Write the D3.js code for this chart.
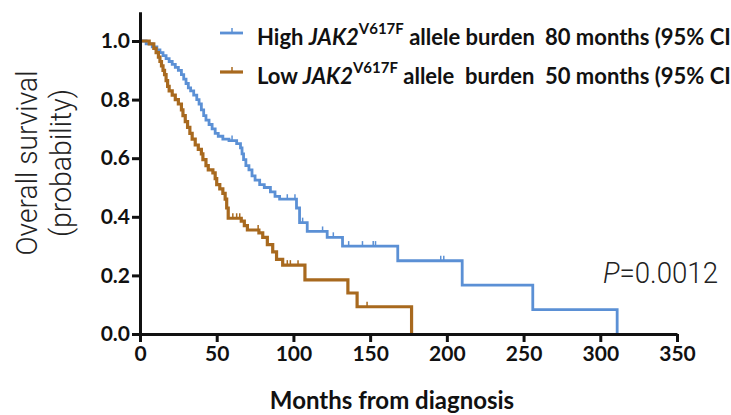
<!DOCTYPE html>
<html lang="en">
<head>
<meta charset="UTF-8">
<title>Overall survival by JAK2 V617F allele burden</title>
<script src="https://d3js.org/d3.v7.min.js"></script>
<style>
  body { margin: 0; background: #fff; }
  svg { display: block; }
</style>
</head>
<body>
<div id="chart"></div>
<script>
// Kaplan-Meier steps: time (months) and survival after each drop
var highTimes = [0, 4, 8, 11, 13, 15, 17, 19, 21, 23, 25, 27, 28.5, 30, 31.5, 33, 35, 37, 38.5, 40, 41.5, 43, 45, 47, 49, 51, 54, 58, 63, 65.5, 66.5, 67.5, 69, 71, 73, 75, 78, 81, 85, 88, 91, 102, 104, 109, 122, 132, 168, 210, 256, 311];
var highSurv  = [1, 0.99, 0.98, 0.97, 0.96, 0.95, 0.94, 0.93, 0.92, 0.91, 0.90, 0.885, 0.87, 0.855, 0.84, 0.83, 0.815, 0.80, 0.785, 0.765, 0.745, 0.73, 0.715, 0.70, 0.685, 0.675, 0.665, 0.66, 0.65, 0.635, 0.615, 0.595, 0.575, 0.56, 0.54, 0.525, 0.51, 0.50, 0.485, 0.47, 0.46, 0.43, 0.38, 0.35, 0.33, 0.30, 0.25, 0.167, 0.083, 0];
var highCensor = [60, 96, 101, 106, 119, 126, 136, 145, 152, 153.5, 196, 198];

var lowTimes = [0, 6, 9, 10.5, 12, 13, 14, 15, 16, 17, 18, 19, 21, 23, 25, 27, 28, 29.5, 31, 32.5, 34, 36, 38, 40, 41, 43, 44.5, 47.5, 49, 50, 52, 54, 55.5, 56.5, 57.5, 66, 68, 70, 77.5, 80, 83, 86.5, 89, 93, 107.5, 135.5, 141.5, 177];
var lowSurv  = [1, 0.99, 0.975, 0.96, 0.945, 0.93, 0.915, 0.90, 0.885, 0.865, 0.845, 0.83, 0.815, 0.80, 0.785, 0.765, 0.745, 0.725, 0.705, 0.685, 0.665, 0.645, 0.63, 0.615, 0.595, 0.575, 0.56, 0.55, 0.53, 0.51, 0.495, 0.48, 0.46, 0.43, 0.395, 0.385, 0.37, 0.355, 0.345, 0.33, 0.305, 0.28, 0.255, 0.235, 0.185, 0.14, 0.093, 0];
var lowCensor = [60.5, 63, 65, 77, 96, 98, 103, 148];

var xTicks = [0, 50, 100, 150, 200, 250, 300, 350];
var yTicks = [0, 0.2, 0.4, 0.6, 0.8, 1.0];

var groups = [
  {label: "High", median: "80 months (95% CI:", times: highTimes, surv: highSurv, censor: highCensor, color: "#5b90d5", width: 2.8},
  {label: "Low", median: "50 months (95% CI:", times: lowTimes, surv: lowSurv, censor: lowCensor, color: "#a8691e", width: 3.2}
];

var W = 731, H = 415;
var svg = d3.select("#chart").append("svg")
  .attr("width", W).attr("height", H);

var x = d3.scaleLinear().domain([0, 350]).range([140, 677]);
var y = d3.scaleLinear().domain([0, 1.1]).range([334, 11.7]);

var font = "Lato, 'Open Sans', sans-serif";

// curves
var line = d3.line()
  .x(function(d) { return x(d[0]); })
  .y(function(d) { return y(d[1]); })
  .curve(d3.curveStepAfter);

function survAt(g, t) {
  var s = 1;
  for (var i = 0; i < g.times.length; i++) {
    if (g.times[i] <= t) s = g.surv[i];
  }
  return s;
}

groups.forEach(function(g) {
  var pts = g.times.map(function(t, i) { return [t, g.surv[i]]; });
  svg.append("path")
    .attr("d", line(pts))
    .attr("fill", "none")
    .attr("stroke", g.color)
    .attr("stroke-width", g.width);

  svg.append("g").selectAll("line")
    .data(g.censor)
    .enter().append("line")
      .attr("x1", function(d) { return x(d); })
      .attr("x2", function(d) { return x(d); })
      .attr("y1", function(d) { return y(survAt(g, d)); })
      .attr("y2", function(d) { return y(survAt(g, d)) - 5; })
      .attr("stroke", g.color)
      .attr("stroke-width", 1.5);
});

// axes
var xAxis = svg.append("g")
  .attr("transform", "translate(0," + y(0) + ")")
  .call(d3.axisBottom(x).tickValues(xTicks).tickSize(8).tickSizeOuter(0).tickPadding(4));
var yAxis = svg.append("g")
  .attr("transform", "translate(" + x(0) + ",0)")
  .call(d3.axisLeft(y).tickValues(yTicks).tickFormat(d3.format(".1f")).tickSize(8).tickSizeOuter(0).tickPadding(2));

[xAxis, yAxis].forEach(function(a) {
  a.select(".domain").attr("stroke", "#111").attr("stroke-width", 3);
  a.selectAll(".tick line").attr("stroke", "#111").attr("stroke-width", 3);
  a.selectAll(".tick text")
    .attr("fill", "#111")
    .style("font-family", font)
    .style("font-weight", "bold")
    .style("font-size", "21px");
});

// axis titles
svg.append("text")
  .attr("x", 392).attr("y", 409)
  .attr("text-anchor", "middle")
  .style("font-family", font)
  .style("font-weight", "bold")
  .style("font-size", "24px")
  .attr("fill", "#111")
  .text("Months from diagnosis");

var yTitle = [
  {text: "Overall survival", bx: 37, len: 185},
  {text: "(probability)", bx: 71, len: 148}
];
yTitle.forEach(function(t) {
  svg.append("text")
    .attr("transform", "translate(" + t.bx + ",163) rotate(-90)")
    .attr("text-anchor", "middle")
    .attr("textLength", t.len)
    .attr("lengthAdjust", "spacingAndGlyphs")
    .style("font-family", "Roboto, sans-serif")
    .style("font-weight", 300)
    .style("font-size", "29px")
    .attr("fill", "#222")
    .text(t.text);
});

// P value
var p = svg.append("text")
  .attr("x", 603).attr("y", 283)
  .attr("textLength", 115)
  .attr("lengthAdjust", "spacingAndGlyphs")
  .style("font-family", "Roboto, sans-serif")
  .style("font-weight", 300)
  .style("font-size", "30px")
  .attr("fill", "#222");
p.append("tspan").style("font-style", "italic").text("P");
p.append("tspan").text("=0.0012");

// legend
groups.forEach(function(g, i) {
  var ly = 33 + i * 39;
  var lg = svg.append("g");
  lg.append("line")
    .attr("x1", 220).attr("x2", 243).attr("y1", ly).attr("y2", ly)
    .attr("stroke", g.color).attr("stroke-width", g.width);
  lg.append("line")
    .attr("x1", 232).attr("x2", 232).attr("y1", ly).attr("y2", ly - 5)
    .attr("stroke", g.color).attr("stroke-width", 1.5);
  var t = lg.append("text")
    .attr("x", 257).attr("y", ly + 12)
    .style("font-family", font)
    .style("font-weight", "bold")
    .style("font-size", "22px")
    .attr("fill", "#111");
  t.append("tspan").text(g.label + " ");
  t.append("tspan").style("font-style", "italic").text("JAK2");
  t.append("tspan").attr("dy", -11).style("font-size", "15px").text("V617F");
  t.append("tspan").attr("dy", 11).text(i === 0 ? " allele burden" : " allele\u00a0 burden");
  lg.append("text")
    .attr("x", 545).attr("y", ly + 12)
    .style("font-family", font)
    .style("font-weight", "bold")
    .style("font-size", "22px")
    .attr("fill", "#111")
    .text(g.median);
});
</script>
</body>
</html>
